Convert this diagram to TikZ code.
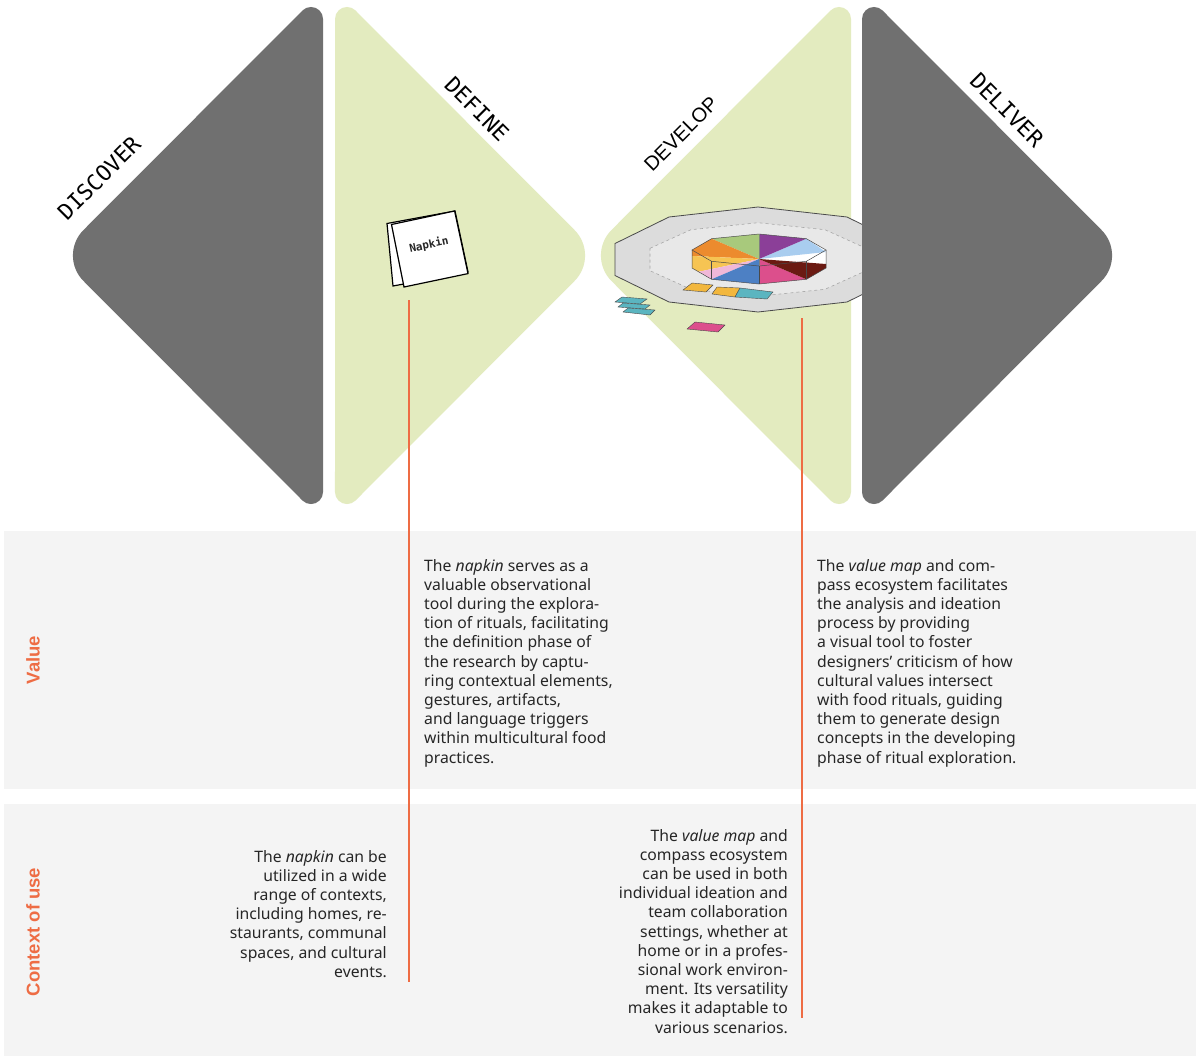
\documentclass[tikz,border=0pt]{standalone}
\usepackage{fontspec}
\setmainfont{Noto Sans}
\newfontfamily\phasemono{DejaVu Sans Mono}
\newfontfamily\phasesans{Liberation Sans}
\newfontfamily\rowfont{Liberation Sans}
\usetikzlibrary{calc}

\definecolor{phasedark}{HTML}{707070}
\definecolor{phasegreen}{HTML}{E3EBBF}
\definecolor{bandgray}{HTML}{F4F4F4}
\definecolor{accent}{HTML}{EE6C44}
\definecolor{textdark}{HTML}{262626}
\definecolor{platformouter}{HTML}{DCDCDC}
\definecolor{platforminner}{HTML}{E8E8E8}
\definecolor{platformedge}{HTML}{4A4A4A}
\definecolor{pieLightBlue}{HTML}{A9CDEF}
\definecolor{piePurple}{HTML}{8B3F98}
\definecolor{pieGreen}{HTML}{A8C97C}
\definecolor{pieOrange}{HTML}{EC8B2E}
\definecolor{pieYellow}{HTML}{F6C453}
\definecolor{piePink}{HTML}{F0B8D8}
\definecolor{pieBlue}{HTML}{4D80C4}
\definecolor{pieMagenta}{HTML}{DC4F8C}
\definecolor{pieMaroon}{HTML}{6B1A12}
\definecolor{cardTeal}{HTML}{5BB5C0}
\definecolor{cardAmber}{HTML}{F2B73D}

\begin{document}
\begin{tikzpicture}[x=1pt,y=-1pt,
  phaselabel/.style={font=\phasemono\fontsize{22}{26}\selectfont, inner sep=0pt, text=black},
  bodytext/.style={font=\fontsize{15.75}{19.2}\selectfont, inner sep=0pt, text=textdark},
  rowlabel/.style={font=\rowfont\bfseries\fontsize{18.5}{22}\selectfont, text=accent, rotate=90, inner sep=0pt},
  guide/.style={draw=accent, line width=2pt},
  card/.style={draw=platformedge, line width=0.4pt},
  pieedge/.style={draw=platformedge, line width=0.5pt},
]
\useasboundingbox (0,0) rectangle (1204,1058);
\fill[white] (0,0) rectangle (1204,1058);

% ---- row bands ----
\fill[bandgray] (4,531) rectangle (1196,789);
\fill[bandgray] (4,804) rectangle (1196,1056);

% ---- double diamond: four half diamonds with rounded corners ----
% discover (points left)
\fill[phasedark] (323,255.5) -- (323,18.97) arc[start angle=0, end angle=135, radius=12pt]
  -- (83.46,230.04) arc[start angle=135, end angle=225, radius=36pt]
  -- (302.52,500.52) arc[start angle=225, end angle=360, radius=12pt] -- cycle;
% define (points right)
\fill[phasegreen] (335,255.5) -- (335,18.97) arc[start angle=180, end angle=45, radius=12pt]
  -- (574.54,230.04) arc[start angle=45, end angle=-45, radius=36pt]
  -- (355.48,500.52) arc[start angle=-45, end angle=-180, radius=12pt] -- cycle;
% develop (points left)
\fill[phasegreen] (851,255.5) -- (851,18.97) arc[start angle=0, end angle=135, radius=12pt]
  -- (611.46,230.04) arc[start angle=135, end angle=225, radius=36pt]
  -- (830.52,500.52) arc[start angle=225, end angle=360, radius=12pt] -- cycle;

% ---- value map platform ----
\begin{scope}[shift={(758,259.5)}]
  \filldraw[fill=platformouter, draw=platformedge, line width=0.8pt]
    (-143,-16) -- (-89,-42.5) -- (0,-52.5) -- (89,-42.5) -- (143,-16)
    -- (143,16) -- (89,42.5) -- (0,52.5) -- (-89,42.5) -- (-143,16) -- cycle;
  \filldraw[fill=platforminner, draw=gray!70, dashed, line width=0.6pt]
    (-108,-11.2) -- (-67,-29.8) -- (0,-36.8) -- (67,-29.8) -- (108,-11.2)
    -- (108,11.2) -- (67,29.8) -- (0,36.8) -- (-67,29.8) -- (-108,11.2) -- cycle;
\end{scope}

% deliver (points right), laid over the platform edge
\fill[phasedark] (862,255.5) -- (862,18.97) arc[start angle=180, end angle=45, radius=12pt]
  -- (1101.54,230.04) arc[start angle=45, end angle=-45, radius=36pt]
  -- (882.48,500.52) arc[start angle=-45, end angle=-180, radius=12pt] -- cycle;

% ---- compass: octagonal prism with coloured value sectors ----
\coordinate (pc) at (759,259);
\fill[white] (692,250) -- (711.6,238.7) -- (759,234) -- (806.4,238.7) -- (826,250)
  -- (826,268) -- (806.4,279.3) -- (759,284) -- (711.6,279.3) -- (692,268) -- cycle;
\fill[pieLightBlue] (pc) -- (826,252) -- (806.4,238.7) -- cycle;
\fill[piePurple] (pc) -- (806.4,238.7) -- (759,234) -- cycle;
\fill[pieGreen] (pc) -- (759,234) -- (711.6,238.7) -- cycle;
\fill[pieOrange] (pc) -- (711.6,238.7) -- (698.5,246.2) -- (692,250) -- (692,256) -- cycle;
\fill[pieYellow] (pc) -- (692,256) -- (692,268) -- (698.5,271.8) -- cycle;
\fill[piePink] (pc) -- (698.5,271.8) -- (711.6,279.3) -- cycle;
\fill[pieBlue] (pc) -- (711.6,279.3) -- (759,284) -- cycle;
\fill[pieMagenta] (pc) -- (759,284) -- (806.4,279.3) -- cycle;
\fill[pieMaroon] (pc) -- (806.4,279.3) -- (826,268) -- (826,264) -- cycle;
% prism outline
\draw[pieedge] (692,250) -- (711.6,238.7) -- (759,234) -- (806.4,238.7) -- (826,250)
  -- (806.4,261.3) -- (759,266) -- (711.6,261.3) -- cycle;
\draw[pieedge] (692,250) -- (692,268) -- (711.6,279.3) -- (759,284) -- (806.4,279.3)
  -- (826,268) -- (826,250);
\draw[pieedge] (711.6,261.3) -- (711.6,279.3) (759,266) -- (759,284) (806.4,261.3) -- (806.4,279.3);
\draw[pieedge, draw=platformedge!70] (759,234) -- (759,266);

% ---- value cards ----
\filldraw[card, fill=cardAmber] (683,290) -- (692,283) -- (713,285) -- (706,292) -- cycle;
\filldraw[card, fill=cardAmber] (712,294) -- (717,287) -- (740,288) -- (735,297) -- cycle;
\filldraw[card, fill=cardTeal] (735,297) -- (740,288) -- (773,292) -- (767,299) -- cycle;
\filldraw[card, fill=cardTeal] (615,302) -- (622,297) -- (647,299) -- (640,304) -- cycle;
\filldraw[card, fill=cardTeal] (618,307) -- (623,303) -- (650,305) -- (645,309) -- cycle;
\filldraw[card, fill=cardTeal] (623,312) -- (628,308) -- (655,310) -- (650,315) -- cycle;
\filldraw[card, fill=pieMagenta] (687,329) -- (695,322) -- (725,325) -- (718,332) -- cycle;

% ---- napkin ----
\filldraw[fill=white, draw=black, line width=1.2pt]
  (387,223.5) -- (455,211) -- (468,272) -- (393,286) -- cycle;
\filldraw[fill=white, draw=black, line width=1.2pt]
  (391.5,224.5) -- (454.6,211) -- (468,273.6) -- (404,287) -- cycle;
\node[font=\phasemono\bfseries\fontsize{11}{13}\selectfont, rotate=12, text=textdark] (napkinlabel) at (429,245) {Napkin};

% ---- phase labels ----
\node[phaselabel, rotate=45] (discover) at (99,178) {DISCOVER};
\node[phaselabel, rotate=-45] (define) at (477,109) {DEFINE};
\node[font=\phasesans\fontsize{20}{24}\selectfont, inner sep=0pt, rotate=45] (develop) at (681,134) {DEVELOP};
\node[phaselabel, rotate=-45] (deliver) at (1007,110) {DELIVER};

% ---- guide lines from tools down to the rows ----
\coordinate (napkintop) at (409,300);
\coordinate (napkinbottom) at (409,982);
\coordinate (maptop) at (802,318);
\coordinate (mapbottom) at (802,1018);
\draw[guide] (napkintop) -- (napkinbottom);
\draw[guide] (maptop) -- (mapbottom);

% ---- row labels ----
\node[rowlabel] (valuerow) at (33,660) {Value};
\node[rowlabel] (contextrow) at (33,932) {Context of use};

% ---- descriptions ----
\node[bodytext, anchor=north west, align=left] (napkinvalue) at (424,559)
  {The \textit{napkin} serves as a\\valuable observational\\tool during the explora-\\tion of rituals, facilitating\\the definition phase of\\the research by captu-\\ring contextual elements,\\gestures, artifacts,\\and language triggers\\within multicultural food\\practices.};
\node[bodytext, anchor=north west, align=left] (mapvalue) at (817,559)
  {The \textit{value map} and com-\\pass ecosystem facilitates\\the analysis and ideation\\process by providing\\a visual tool to foster\\designers’ criticism of how\\cultural values intersect\\with food rituals, guiding\\them to generate design\\concepts in the developing\\phase of ritual exploration.};
\node[bodytext, anchor=north east, align=right] (napkincontext) at (387,850)
  {The \textit{napkin} can be\\utilized in a wide\\range of contexts,\\including homes, re-\\staurants, communal\\spaces, and cultural\\events.};
\node[bodytext, anchor=north east, align=right] (mapcontext) at (788,829)
  {The \textit{value map} and\\compass ecosystem\\can be used in both\\individual ideation and\\team collaboration\\settings, whether at\\home or in a profes-\\sional work environ-\\ment. Its versatility\\makes it adaptable to\\various scenarios.};
\end{tikzpicture}
\end{document}
